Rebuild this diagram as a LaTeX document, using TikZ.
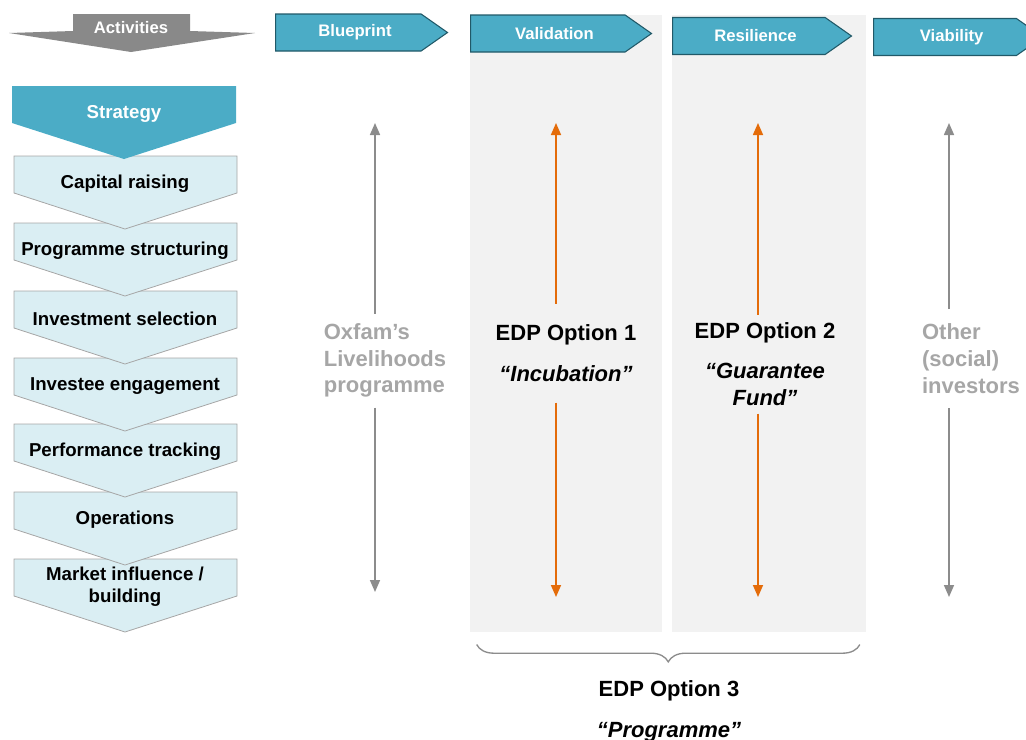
\documentclass[tikz,border=0pt]{standalone}
\usepackage{fontspec}
\setmainfont{Liberation Sans}
\usetikzlibrary{shapes.symbols, arrows.meta, decorations.pathreplacing, positioning}
\definecolor{stageblue}{HTML}{4BACC6}
\definecolor{stageedge}{HTML}{215968}
\definecolor{chevfill}{HTML}{DAEEF3}
\definecolor{chevedge}{HTML}{A6A6A6}
\definecolor{actgrey}{HTML}{898989}
\definecolor{labelgrey}{HTML}{A6A6A6}
\definecolor{panelgrey}{HTML}{F2F2F2}
\definecolor{arrowgrey}{HTML}{8C8C8C}
\definecolor{optorange}{HTML}{E46C0A}

\begin{document}
\begin{tikzpicture}[x=0.75pt, y=-0.75pt,
  stage/.style={signal, signal to=east, signal pointer angle=70, fill=stageblue,
    draw=stageedge, line width=0.8pt, minimum height=27.75pt, inner sep=0pt,
    text=white, font=\fontsize{12.5}{15}\selectfont\bfseries, anchor=west,
    execute at begin node=\hspace*{10pt}},
  chevshape/.style={fill=chevfill, draw=chevedge, line width=0.6pt},
  chevtext/.style={align=center, inner sep=0pt, font=\fontsize{14}{16.5}\selectfont\bfseries},
  panel/.style={rectangle, fill=panelgrey, inner sep=0pt, anchor=north west},
  bigtext/.style={font=\fontsize{16.5}{20}\selectfont\bfseries, inner sep=0pt, outer sep=0pt},
  garrow/.style={draw=arrowgrey, line width=1.2pt, -{Triangle[length=9pt, width=7.5pt]}},
  oarrow/.style={draw=optorange, line width=1.2pt, -{Triangle[length=9pt, width=7.5pt]}},
  optbrace/.style={draw=arrowgrey, line width=1pt, decorate,
    decoration={brace, mirror, amplitude=13pt, aspect=0.5}}]
\useasboundingbox (0,0) rectangle (1026,740);

% option panels
\node[panel, minimum width=144pt, minimum height=462.75pt] (valpanel) at (470,15) {};
\node[panel, minimum width=145.5pt, minimum height=462.75pt] (respanel) at (672,15) {};

% activities header
\fill[actgrey] (73,14) -- (190,14) -- (190,31) -- (255,33) -- (131,52) -- (9,33) -- (73,31) -- cycle;
\node[text=white, font=\fontsize{12.5}{15}\selectfont\bfseries] (act) at (131,28) {Activities};

% stages
\node[stage, minimum width=129pt] (blue) at (275,32.5) {Blueprint};
\node[stage, minimum width=135.75pt] (valid) at (470,33.5) {Validation};
\node[stage, minimum width=134.25pt] (resil) at (672,36) {Resilience};
\node[stage, minimum width=127pt] (viab) at (873,37) {Viability};

% activity chevrons, lowest first
\foreach \name/\txt/\top in {mkt/{Market influence /\\building}/559, ops/Operations/492,
    perf/Performance tracking/424, eng/Investee engagement/358,
    inv/Investment selection/291, prog/Programme structuring/223, cap/Capital raising/156}{
  \filldraw[chevshape] (14,\top) -- (237,\top) -- (237,{\top+37}) -- (125,{\top+73})
    -- (14,{\top+37}) -- cycle;
  \node[chevtext] (\name) at (125,{\top+28}) {\txt};
}
\fill[stageblue] (12,86) -- (236,86) -- (236,123) -- (124,159) -- (12,123) -- cycle;
\node[chevtext, text=white] (strat) at (124,114) {Strategy};

% column labels
\node[bigtext, text=labelgrey, align=left, minimum height=70.5pt] (oxfam) at (385,360.5)
  {Oxfam’s\\Livelihoods\\programme};
\node[bigtext, align=center, minimum height=74.25pt] (opt1) at (566,353)
  {EDP Option 1\\[11pt]\textit{“Incubation”}};
\node[bigtext, align=center, minimum height=74.25pt] (opt2) at (765,364)
  {EDP Option 2\\[10pt]\textit{“Guarantee}\\\textit{Fund”}};
\node[bigtext, text=labelgrey, align=left, minimum height=74.25pt] (other) at (971,358.5)
  {Other\\(social)\\investors};

\coordinate (oxtop) at (375,123);
\coordinate (oxbot) at (375,592);
\coordinate (o1top) at (556,123);
\coordinate (o1bot) at (556,597);
\coordinate (o2top) at (758,123);
\coordinate (o2bot) at (758,597);
\coordinate (ottop) at (949,123);
\coordinate (otbot) at (949,597);

\draw[garrow] (oxfam.north -| oxtop) -- (oxtop);
\draw[garrow] (oxfam.south -| oxtop) -- (oxbot);
\draw[oarrow] (opt1.north -| o1top) -- (o1top);
\draw[oarrow] (opt1.south -| o1top) -- (o1bot);
\draw[oarrow] (opt2.north -| o2top) -- (o2top);
\draw[oarrow] (opt2.south -| o2top) -- (o2bot);
\draw[garrow] (other.north -| ottop) -- (ottop);
\draw[garrow] (other.south -| ottop) -- (otbot);

% programme option
\draw[optbrace] ([xshift=5pt, yshift=-9pt]valpanel.south west) -- ([xshift=-5pt, yshift=-9pt]respanel.south east);
\node[bigtext, align=center] (opt3) at (669,711) {EDP Option 3\\[11pt]\textit{“Programme”}};
\end{tikzpicture}
\end{document}
